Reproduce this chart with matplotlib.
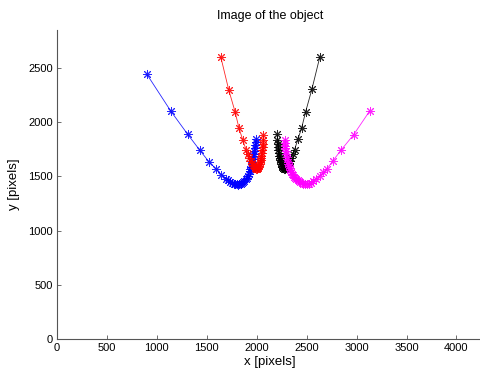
import matplotlib
matplotlib.use('Agg')
import matplotlib.pyplot as plt

# tracked positions of the four points (image coordinates, pixels)
blue_x = [900, 1140, 1310, 1430, 1520, 1590, 1645, 1690, 1712, 1735, 1755, 1770, 1785, 1800,
          1812, 1825, 1840, 1852, 1865, 1877, 1890, 1900, 1910, 1920, 1928, 1936, 1943, 1950,
          1956, 1962, 1967, 1972, 1977, 1982, 1986, 1990, 1993]
blue_y = [2440, 2100, 1885, 1740, 1635, 1570, 1515, 1478, 1463, 1450, 1440, 1433, 1428, 1425,
          1424, 1425, 1430, 1437, 1446, 1458, 1472, 1488, 1505, 1524, 1544, 1565, 1587, 1610,
          1634, 1658, 1683, 1708, 1735, 1763, 1792, 1815, 1840]

red_x = [1640, 1720, 1783, 1822, 1860, 1893, 1910, 1925, 1938, 1950, 1960, 1970, 1978, 1985,
         1992, 1998, 2004, 2010, 2016, 2022, 2028, 2033, 2038, 2043, 2047, 2051, 2055, 2058,
         2061, 2064, 2067]
red_y = [2600, 2295, 2095, 1945, 1835, 1745, 1705, 1672, 1645, 1622, 1604, 1590, 1580, 1574,
         1571, 1570, 1572, 1577, 1585, 1596, 1610, 1627, 1646, 1667, 1690, 1714, 1740, 1768,
         1798, 1835, 1880]

black_x = [2632, 2552, 2490, 2450, 2412, 2379, 2362, 2347, 2334, 2322, 2312, 2302, 2294, 2287,
           2280, 2274, 2268, 2262, 2256, 2250, 2244, 2239, 2234, 2229, 2225, 2221, 2217, 2214,
           2211, 2208, 2205]
black_y = [2600, 2300, 2095, 1945, 1840, 1745, 1705, 1672, 1645, 1622, 1604, 1590, 1580, 1574,
           1571, 1570, 1572, 1577, 1585, 1596, 1610, 1627, 1646, 1667, 1690, 1714, 1740, 1768,
           1798, 1838, 1885]

mag_x = [2280, 2282, 2285, 2288, 2292, 2296, 2300, 2305, 2310, 2316, 2322, 2329, 2337, 2345,
         2354, 2364, 2374, 2385, 2397, 2410, 2423, 2437, 2452, 2467, 2482, 2500, 2520, 2540,
         2563, 2595, 2630, 2665, 2703, 2763, 2847, 2970, 3130]
mag_y = [1836, 1810, 1783, 1757, 1731, 1706, 1682, 1658, 1635, 1613, 1592, 1573, 1555, 1538,
         1522, 1508, 1495, 1483, 1472, 1462, 1453, 1445, 1438, 1432, 1428, 1426, 1428, 1438,
         1458, 1478, 1504, 1535, 1568, 1642, 1744, 1882, 2100]

x_ticks = [0, 500, 1000, 1500, 2000, 2500, 3000, 3500, 4000]
y_ticks = [0, 500, 1000, 1500, 2000, 2500]

plt.rcParams['font.family'] = ['Liberation Sans', 'DejaVu Sans']

fig = plt.figure(figsize=(4.81, 3.76), dpi=100)
ax = fig.add_axes([57 / 481, 37 / 376, 426.6 / 481, 309 / 376])

# matlab style '*' marker: 8 spoked asterisk
star = (8, 2, 0)
for xs, ys, c in [(blue_x, blue_y, '#0000ff'), (red_x, red_y, '#ff0000'),
                  (black_x, black_y, '#000000'), (mag_x, mag_y, '#ff00ff')]:
    ax.plot(xs, ys, '-', color=c, lw=0.6, marker=star, ms=6.5, mew=0.7, alpha=0.85)

ax.set_xlim(0, 4272)
ax.set_ylim(0, 2848)
ax.set_xticks(x_ticks)
ax.set_yticks(y_ticks)
ax.spines['top'].set_visible(False)
ax.spines['right'].set_visible(False)
for s in ['left', 'bottom']:
    ax.spines[s].set_color('#555555')
    ax.spines[s].set_linewidth(0.8)
ax.tick_params(direction='in', length=3, width=0.6, color='#555555', labelsize=8, pad=3)

ax.set_title('Image of the object', fontsize=9, pad=8)
ax.set_xlabel('x [pixels]', fontsize=9.5, labelpad=2)
ax.set_ylabel('y [pixels]', fontsize=9.5, labelpad=6)

fig.savefig('out.png', dpi=100)
